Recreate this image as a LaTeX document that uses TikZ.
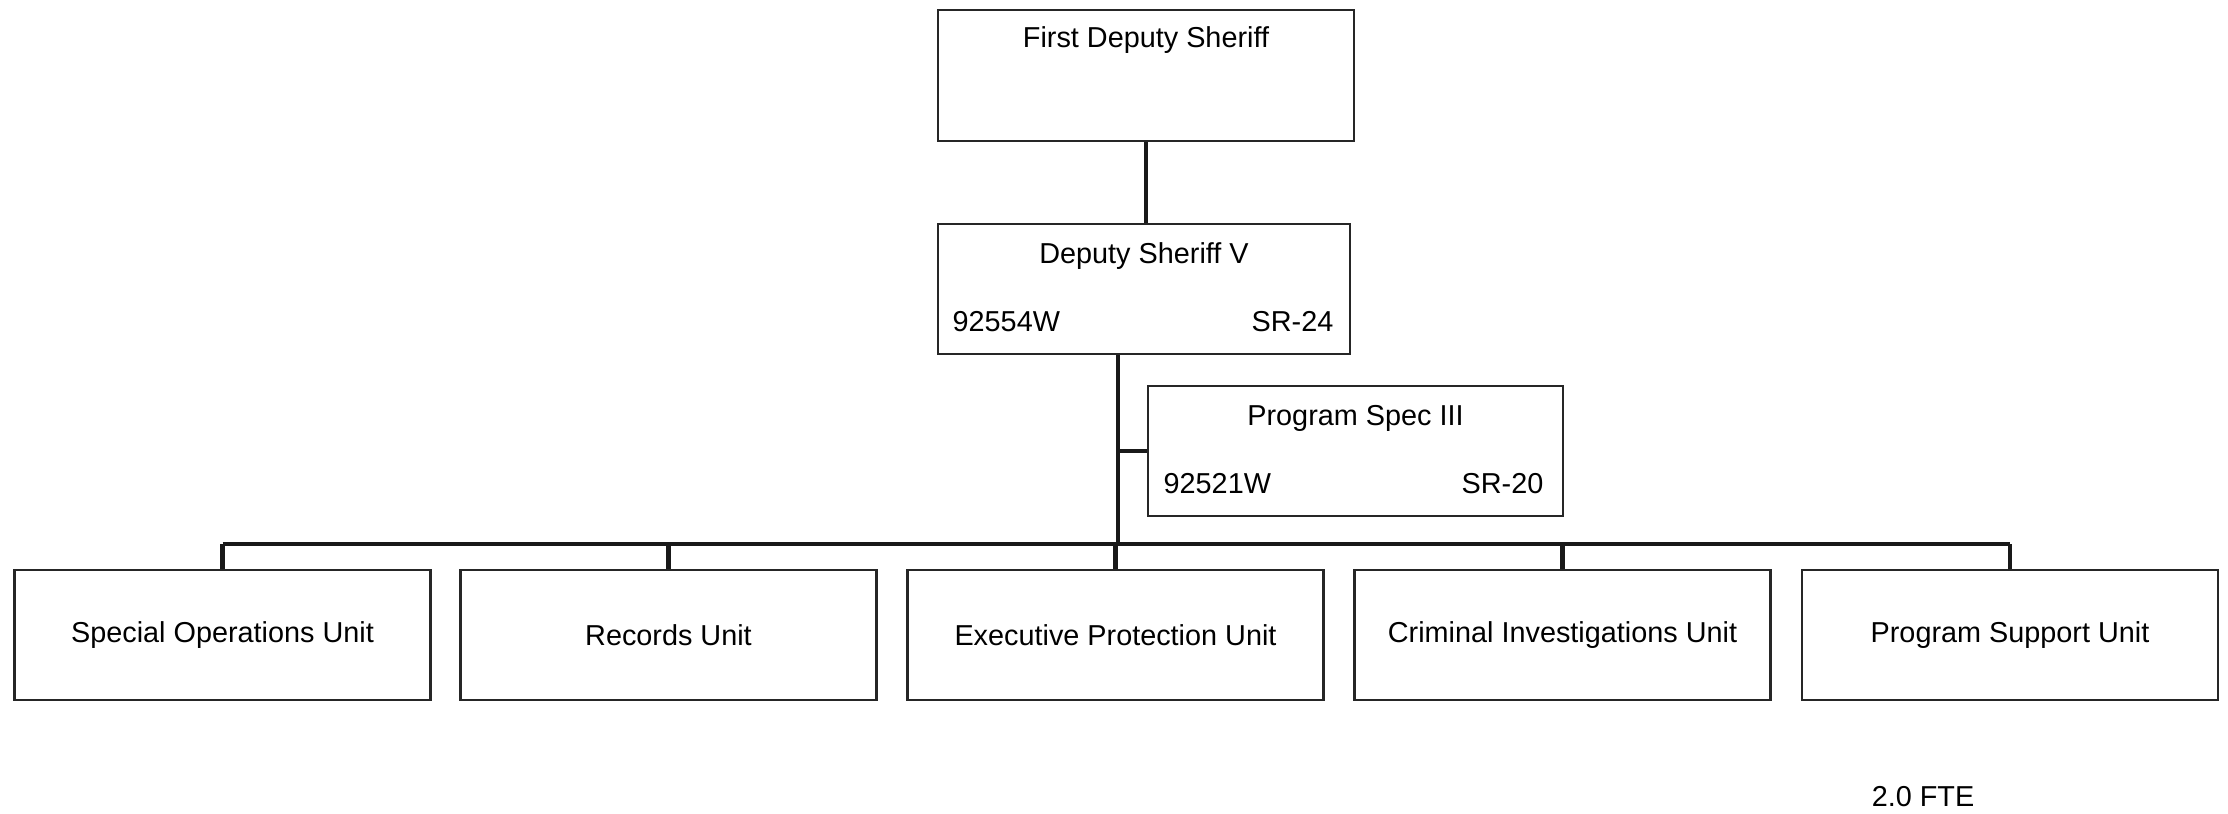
\documentclass[tikz,border=0pt]{standalone}
\usepackage{fontspec}
\setmainfont{Liberation Sans}
\usetikzlibrary{positioning, calc}

\begin{document}
\begin{tikzpicture}[
  post/.style={rectangle, draw=black!85, line width=0.6pt, minimum width=4.16cm,
    minimum height=1.30cm, inner sep=0pt},
  unit/.style={post, align=center, font=\fontsize{8.2}{10}\selectfont},
  txt/.style={inner sep=0pt, font=\fontsize{8.2}{10}\selectfont},
  link/.style={line width=1.2pt, black!90},
]
\useasboundingbox (0,0) rectangle (22.28,-8.13);

%% ── Top of chain ─────────────────────────────────────────────────────────────
\node[post, minimum height=1.31cm] (FDS) at (11.46,-0.755) {};
\node[txt, anchor=center] (FDSt) at ($(FDS.north)+(0,-0.31)$) {First Deputy Sheriff};

\node[post, minimum width=4.12cm] (DSV) at (11.44,-2.89) {};
\node[txt] (DSVt) at ($(DSV.north)+(0,-0.33)$) {Deputy Sheriff V};
\node[txt, anchor=west] (DSVc) at ($(DSV.south west)+(0.15,0.33)$) {92554W};
\node[txt, anchor=east] (DSVg) at ($(DSV.south east)+(-0.17,0.33)$) {SR-24};

\draw[link] (FDS.south) -- (FDS.south |- DSV.north);

%% ── Staff post ───────────────────────────────────────────────────────────────
\node[post, minimum width=4.15cm] (PS3) at (13.555,-4.51) {};
\node[txt] (PS3t) at ($(PS3.north)+(0,-0.33)$) {Program Spec III};
\node[txt, anchor=west] (PS3c) at ($(PS3.south west)+(0.16,0.33)$) {92521W};
\node[txt, anchor=east] (PS3g) at ($(PS3.south east)+(-0.20,0.33)$) {SR-20};

%% ── Units ────────────────────────────────────────────────────────────────────
\node[unit] (SO)  at (2.225,-6.35)  {Special Operations Unit};
\node[unit] (REC) at (6.685,-6.35)  {Records Unit};
\node[unit] (EP)  at (11.155,-6.35) {Executive Protection Unit};
\node[unit] (CI)  at (15.625,-6.35) {Criminal Investigations Unit};
\node[unit] (PSU) at (20.10,-6.35)  {Program Support Unit};

\node[txt] (FTE) at (19.23,-7.97) {2.0 FTE};

%% ── Connectors ───────────────────────────────────────────────────────────────
\coordinate (TRK) at ([xshift=-0.26cm]DSV.south);
\coordinate (BUS) at (0,-5.44);

\draw[link] (TRK) -- (TRK |- BUS);
\draw[link] (PS3.west) -- (PS3.west -| TRK);
\draw[link, line width=1.4pt] (SO.north |- BUS) -- (PSU.north |- BUS);
\foreach \u in {SO, REC, EP, CI, PSU}
  \draw[link] (\u.north) -- (\u.north |- BUS);

\end{tikzpicture}
\end{document}
